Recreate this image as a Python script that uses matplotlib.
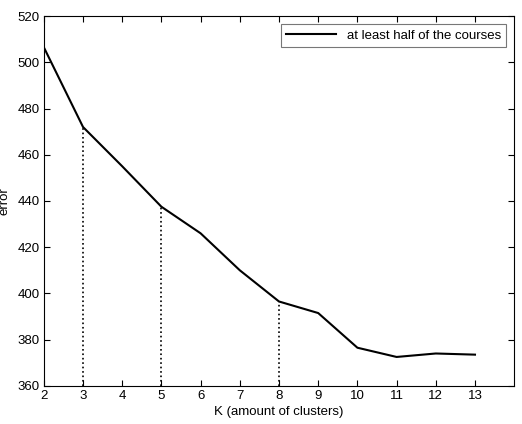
import matplotlib
matplotlib.use("Agg")
import matplotlib.pyplot as plt

plt.rcParams['font.family'] = ['Liberation Sans', 'DejaVu Sans']

# data
k = [2, 3, 4, 5, 6, 7, 8, 9, 10, 11, 12, 13]
error = [506.5, 472, 455, 437.5, 426, 410, 396.5, 391.5, 376.5, 372.5, 374, 373.5]
marked_k = [3, 5, 8]

fig = plt.figure(figsize=(5.22, 4.24), dpi=100)
ax = fig.add_axes([0.084, 0.09, 0.901, 0.872])

ax.plot(k, error, color='black', lw=1.5, label='at least half of the courses')

# dotted drop lines at the chosen K values
for m in marked_k:
    ax.vlines(m, 360, error[k.index(m)], colors='black', linestyles=':', lw=1.2)

ax.set_xlim(2, 14)
ax.set_ylim(360, 520)
ax.set_xticks(range(2, 14))
ax.set_yticks(range(360, 521, 20))
ax.tick_params(direction='in', top=True, right=True, labelsize=9.5, length=4, pad=3)
for s in ax.spines.values():
    s.set_linewidth(0.8)

ax.set_xlabel('K (amount of clusters)', fontsize=9.5, labelpad=3)
ax.set_ylabel('error', fontsize=9.5, labelpad=5)

leg = ax.legend(loc='upper right', fontsize=9.5, fancybox=False, edgecolor='#555555',
                handlelength=3.8, borderpad=0.4, borderaxespad=0.6)
leg.get_frame().set_linewidth(0.8)

fig.savefig('out.png', dpi=100)
